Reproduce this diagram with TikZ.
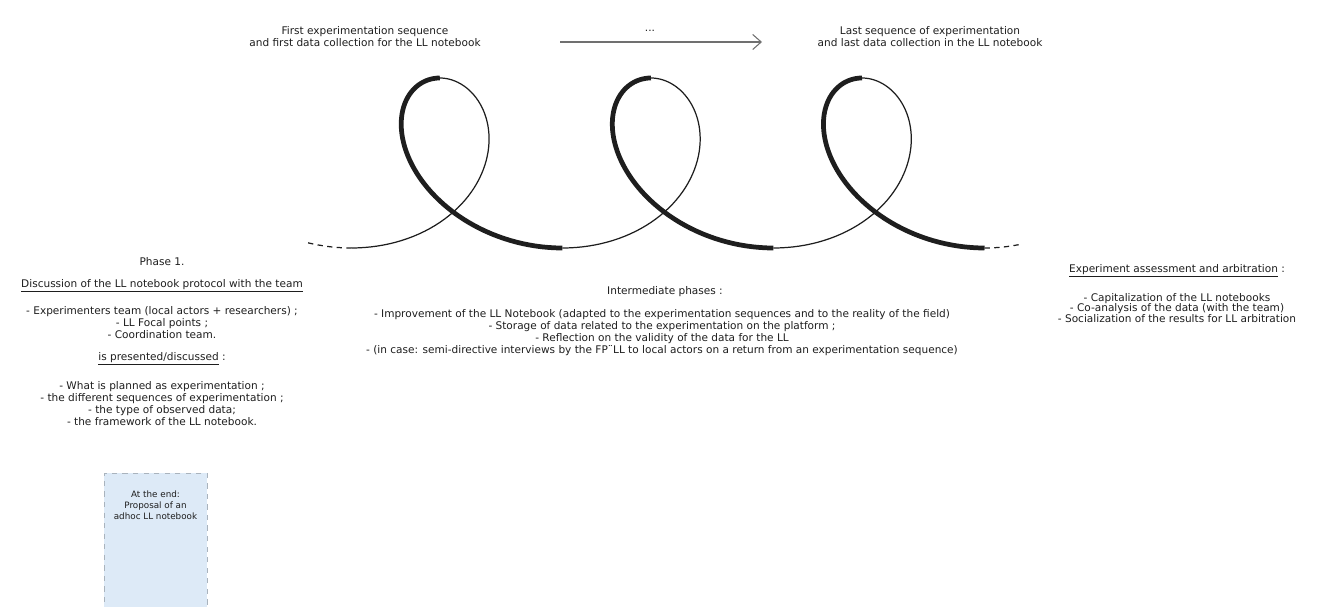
\documentclass[tikz,border=0pt]{standalone}
\usepackage{fontspec}
\setmainfont{DejaVu Sans}
\usepackage{xcolor}
\definecolor{inkBlack}{HTML}{1E1E1E}
\definecolor{arrowGray}{HTML}{707070}
\definecolor{boxBlue}{HTML}{DDEAF7}
\definecolor{boxBorder}{HTML}{A9B3BD}
\usepackage{tikz}
\usetikzlibrary{
    arrows.meta,
    positioning
}
\tikzset{
    % Base style for the handwritten notes
    note base/.style={
        font=\fontsize{6}{6.83}\selectfont,
        align=center,
        text=inkBlack,
        inner sep=0pt,
    },
    % Tighter notes on the right
    note tight/.style={
        note base,
        font=\fontsize{6}{6.1}\selectfont,
    },
    % Small notes inside the box
    note small/.style={
        note base,
        font=\fontsize{5}{6.4}\selectfont,
    },
    % Thick half of each loop
    loop thick/.style={
        draw=inkBlack,
        line width=2.7pt,
        line cap=butt,
    },
    % Thin half of each loop
    loop thin/.style={
        draw=inkBlack,
        line width=0.7pt,
    },
    % Loose ends of the spiral
    loop open/.style={
        loop thin,
        dash pattern=on 3pt off 2.5pt,
    },
    % Arrow between first and last sequence
    time arrow/.style={
        -{Straight Barb[length=1.7mm, width=3mm]},
        draw=arrowGray,
        line width=0.6pt,
    },
    % Dashed blue box at the end of phase 1
    proposal box/.style={
        rectangle,
        draw=boxBorder,
        dashed,
        fill=boxBlue,
        line width=0.4pt,
        minimum width=2.06cm,
        minimum height=2.68cm,
    },
}

\begin{document}
\begin{tikzpicture}[x=0.02cm, y=-0.02cm,
    declare function={
        loopy(\t)=163-85*cos(\t r);
        loopx(\t)=452+33.6*\t-90*sin(\t r)+0.1*(loopy(\t)-200);
    }]
    \useasboundingbox (0,0) rectangle (1325,607);

    % top line
    \node (firstSeq) [note base] at (365,37) {First experimentation sequence\\and first data collection for the LL notebook};
    \node (lastSeq) [note base] at (930,37) {Last sequence of experimentation\\and last data collection in the LL notebook};
    \node (dots) [note base] at (650,31) {...};
    \coordinate (arrowTail) at (560,42);
    \coordinate (arrowHead) at (762,42);
    \draw [time arrow] (arrowTail) -- (arrowHead);

    % the spiral
    \draw [loop open] plot[domain=-pi-0.35:-pi, samples=10, variable=\t] ({loopx(\t)},{loopy(\t)});
    \draw [loop thin] plot[domain=-pi:0, samples=60, variable=\t] ({loopx(\t)},{loopy(\t)});
    \foreach \k in {0,1,2} {
        \draw [loop thick] plot[domain=2*pi*\k:2*pi*\k+pi, samples=60, variable=\t] ({loopx(\t)},{loopy(\t)});
    }
    \foreach \k in {1,2} {
        \draw [loop thin] plot[domain=2*pi*\k-pi:2*pi*\k, samples=60, variable=\t] ({loopx(\t)},{loopy(\t)});
    }
    \draw [loop open] plot[domain=5*pi:5*pi+0.3, samples=10, variable=\t] ({loopx(\t)},{loopy(\t)});

    % phase 1
    \node (phaseOne) [note base] at (162,262) {Phase 1.};
    \node (discussion) [note base] at (162,286) {\underline{Discussion of the LL notebook protocol with the team}};
    \node (members) [note base] at (162,323) {- Experimenters team (local actors + researchers) ;\\- LL Focal points ;\\- Coordination team.};
    \node (presented) [note base] at (162,359) {\underline{is presented/discussed} :};
    \node (planned) [note base] at (162,403.5) {- What is planned as experimentation ;\\- the different sequences of experimentation ;\\- the type of observed data;\\- the framework of the LL notebook.};

    % intermediate phases
    \node (intermTitle) [note base] at (665,292) {Intermediate phases :};
    \node (intermList) [note base] at (662,333) {- Improvement of the LL Notebook (adapted to the experimentation sequences and to the reality of the field)\\- Storage of data related to the experimentation on the platform ;\\- Reflection on the validity of the data for the LL\\- (in case: semi-directive interviews by the FP¨LL to local actors on a return from an experimentation sequence)};

    % assessment
    \node (assessTitle) [note base] at (1177,271) {\underline{Experiment assessment and arbitration} :};
    \node (assessList) [note tight] at (1177,308) {- Capitalization of the LL notebooks\\- Co-analysis of the data (with the team)\\- Socialization of the results for LL arbitration};

    % proposal
    \node (proposalBox) [proposal box] at (155.5,540) {};
    \node (proposalText) [note small, below=10pt of proposalBox.north, anchor=north] {At the end:\\Proposal of an\\adhoc LL notebook};
\end{tikzpicture}
\end{document}
